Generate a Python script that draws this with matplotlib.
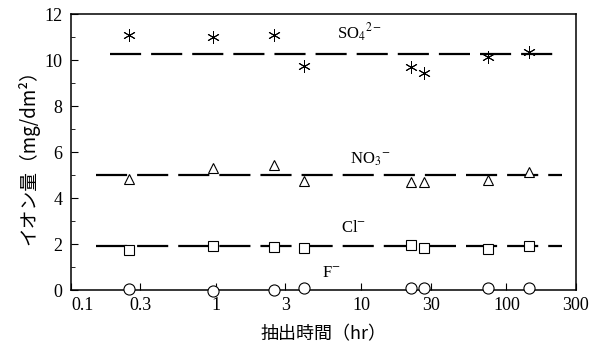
import matplotlib
matplotlib.use('Agg')
import matplotlib.pyplot as plt
import numpy as np

plt.rcParams['font.family'] = ['Liberation Serif', 'Noto Sans CJK JP', 'DejaVu Sans']
plt.rcParams['mathtext.fontset'] = 'stix'

# 抽出時間 (hr)
t = [0.25, 0.95, 2.5, 4.0, 22, 27, 75, 144]

so4 = [11.1, 11.0, 11.1, 9.75, 9.7, 9.45, 10.15, 10.35]
no3 = [4.85, 5.3, 5.42, 4.75, 4.7, 4.7, 4.78, 5.12]
cl = [1.75, 1.92, 1.88, 1.85, 1.97, 1.82, 1.8, 1.9]
f = [0.05, -0.03, 0.0, 0.1, 0.1, 0.1, 0.1, 0.1]

# mean lines (level, x start, x end)
so4_line = (10.25, 0.186, 240)
no3_line = (5.0, 0.148, 240)
cl_line = (1.9, 0.148, 240)

xticks = [0.1, 0.3, 1, 3, 10, 30, 100, 300]
xticklabels = ['0.1', '0.3', '1', '3', '10', '30', '100', '300']

fig = plt.figure(figsize=(6.01, 3.45), dpi=100)
ax = fig.add_axes([0.118, 0.159, 0.840, 0.800])

ls = (0, (14, 4.5))
for lv, x0, x1 in [so4_line, no3_line, cl_line]:
    ax.plot([x0, x1], [lv, lv], color='black', lw=1.6, ls=ls)

ax.plot(t, so4, ls='none', marker=(6, 2, 0), ms=9, mec='black', mew=0.7)
ax.plot(t, no3, ls='none', marker='^', ms=7, mfc='white', mec='black', mew=0.8)
ax.plot(t, cl, ls='none', marker='s', ms=7, mfc='white', mec='black', mew=0.8)
ax.plot(t, f, ls='none', marker='o', ms=8, mfc='white', mec='black', mew=0.8, clip_on=False, zorder=5)

# ion labels
ax.text(9.8, 11.2, 'SO$_4$$^{2\u2212}$', fontsize=12, ha='center', va='center')
ax.text(11.5, 5.68, 'NO$_3$$^{\u2212}$', fontsize=12, ha='center', va='center')
ax.text(8.8, 2.7, 'Cl$^{\u2212}$', fontsize=12, ha='center', va='center')
ax.text(6.2, 0.75, 'F$^{\u2212}$', fontsize=12, ha='center', va='center')

ax.set_xscale('log')
ax.set_xlim(0.1, 300)
ax.set_ylim(0, 12)
ax.set_xticks(xticks)
ax.set_xticklabels(xticklabels)
ax.get_xticklabels()[0].set_ha('left')
ax.xaxis.set_minor_locator(matplotlib.ticker.NullLocator())
ax.set_yticks(np.arange(0, 13, 2))
ax.set_yticks(np.arange(1, 12, 2), minor=True)
ax.tick_params(axis='both', which='both', direction='in', labelsize=13)
ax.tick_params(axis='both', which='major', length=5)
ax.tick_params(axis='both', which='minor', length=3)
ax.tick_params(axis='x', pad=5)
ax.tick_params(axis='y', pad=6)

ax.set_xlabel('抽出時間（hr）', fontsize=13, labelpad=8, family=['Noto Sans CJK JP', 'DejaVu Sans'])
ax.set_ylabel('イオン量（mg/dm²）', fontsize=13.5, family=['Noto Sans CJK JP', 'DejaVu Sans'])

for s in ax.spines.values():
    s.set_linewidth(1.1)

fig.savefig('out.png', dpi=100)
